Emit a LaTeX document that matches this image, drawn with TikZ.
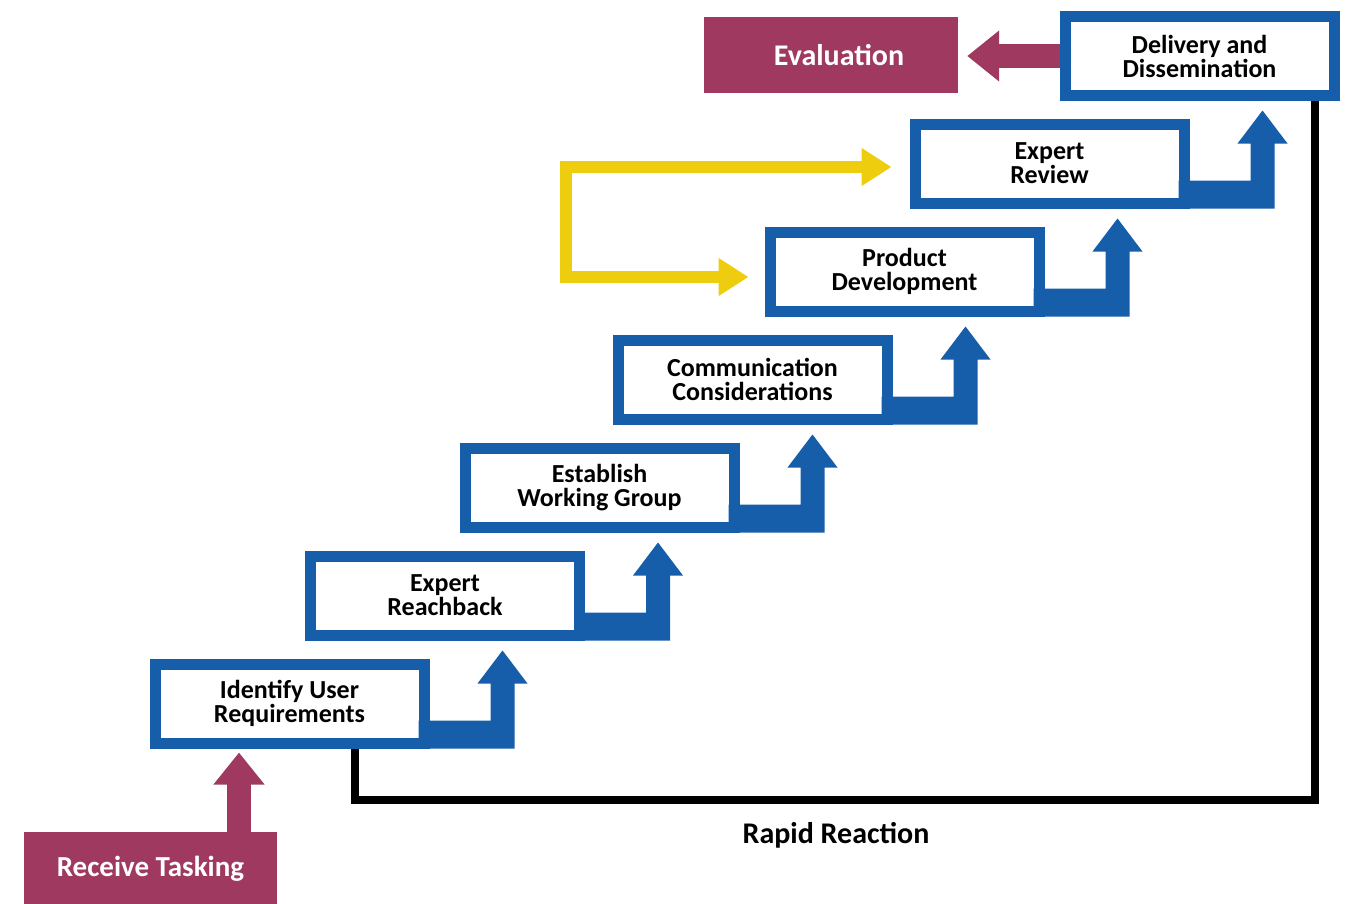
\documentclass[tikz,border=0pt]{standalone}
\usepackage{fontspec}
\setmainfont{Carlito}
\usetikzlibrary{arrows.meta,calc,backgrounds}
\definecolor{stepblue}{RGB}{22,94,170}
\definecolor{taskred}{RGB}{159,57,95}
\definecolor{loopyellow}{RGB}{238,204,14}
\begin{document}
\begin{tikzpicture}[x=1pt,y=-1pt,
  stepbox/.style={draw=stepblue,line width=11pt,fill=white,minimum width=269pt,minimum height=79pt,inner sep=0pt,align=center,font=\bfseries\fontsize{26}{24}\selectfont},
  taskbox/.style={fill=taskred,text=white,inner sep=0pt,font=\bfseries\fontsize{30}{30}\selectfont},
  taskarrow/.style={draw=taskred,line width=24pt,-{Triangle[length=32pt,width=49pt]}},
  reviewloop/.style={draw=loopyellow,line width=12pt,{Triangle[length=30pt,width=36pt]}-{Triangle[length=30pt,width=36pt]}},
  reaction/.style={draw=black,line width=8pt}]
\useasboundingbox (0,0) rectangle (1350,903);
% steps
\node[stepbox] (s1) at (289.5,703.5) {Identify User\\Requirements};
\node[stepbox] (s2) at (445,595.5) {Expert\\Reachback};
\node[stepbox] (s3) at (599.5,487.5) {Establish\\Working Group};
\node[stepbox] (s4) at (752.5,379.5) {Communication\\Considerations};
\node[stepbox] (s5) at (904.5,271.5) {Product\\Development};
\node[stepbox] (s6) at (1049.5,163.5) {Expert\\Review};
\node[stepbox] (s7) at (1199.5,56) {Delivery and\\Dissemination};
\foreach \i in {1,...,6}
  \fill[stepblue,shift={(s\i.south east)}] (-11,0) -- (85,0) -- (85,-65) -- (98,-65)
    -- (73,-98) -- (48,-65) -- (61,-65) -- (61,-28) -- (-11,-28) -- cycle;
% tasking and evaluation
\node[taskbox,minimum width=253pt,minimum height=73pt,font=\bfseries\fontsize{29}{30}\selectfont] (rt) at (150.5,868.5) {Receive Tasking};
\node[taskbox,minimum width=254pt,minimum height=76pt] (ev) at (831,55) {\hspace*{16pt}Evaluation};
\coordinate (rtup) at (239,0);
\draw[taskarrow] (rt.north -| rtup) -- ($(s1.south -| rtup)+(0,4)$);
\draw[taskarrow] (s7.west) -- ($(ev.east |- s7.west)+(9,0)$);
% review loop
\coordinate (ytop) at ($(s6.west)+(-18,3.5)$);
\coordinate (ybot) at ($(s5.west)+(-16,5.5)$);
\coordinate (fb) at (566,0);
\draw[reviewloop] (ytop) -- (ytop -| fb) -- (ybot -| fb) -- (ybot);
% rapid reaction
\coordinate (rrl) at (355,800);
\coordinate (rrr) at (1315,800);
\begin{scope}[on background layer]
\draw[reaction] (s1.south -| rrl) -- (rrl) -- (rrr) -- (s7.south -| rrr);
\end{scope}
\node[font=\bfseries\fontsize{30}{30}\selectfont] (rr) at (836,835) {Rapid Reaction};
\end{tikzpicture}
\end{document}
